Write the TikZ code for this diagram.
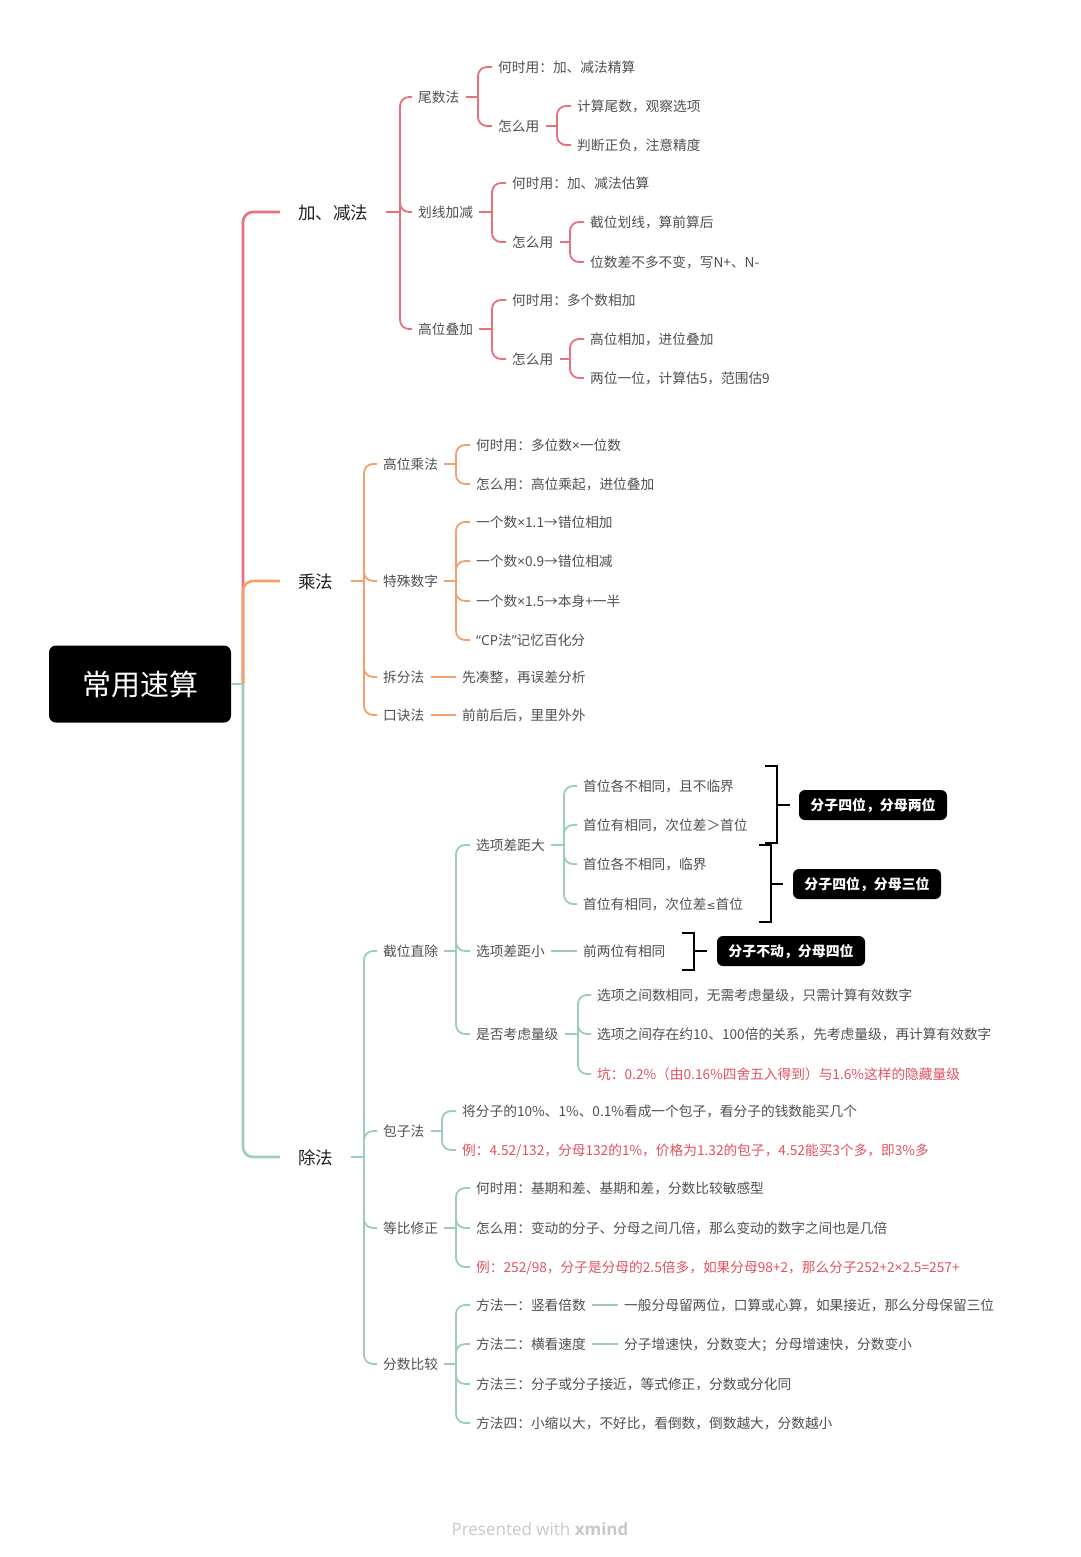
\documentclass[tikz,border=0pt]{standalone}
\usepackage{fontspec}
\setmainfont{Noto Sans CJK SC}
\newfontfamily\wmfont{Open Sans}
\newfontfamily\latn{Noto Sans}
\newfontfamily\djv{DejaVu Sans}
\newcommand\lat[1]{{\latn #1}}
\definecolor{cred}{HTML}{E8707D}
\definecolor{cora}{HTML}{F2A06C}
\definecolor{cgrn}{HTML}{9DCDB8}
\definecolor{ctxt}{HTML}{505050}
\definecolor{cl1}{HTML}{222222}
\definecolor{cwarn}{HTML}{E2525F}
\definecolor{cwm}{HTML}{C8C8C8}
\tikzset{
  base/.style={anchor=west, inner ysep=2pt},
  nd/.style={base, text height=12.6pt, text depth=1.4pt, inner xsep=6pt, xshift=-6pt, text=ctxt, font=\fontsize{13.7}{16}\selectfont},
  warn/.style={nd, text=cwarn},
  lone/.style={base, text height=16pt, text depth=1.2pt, inner xsep=18pt, xshift=-18pt, text=cl1, font=\fontsize{17.5}{20}\selectfont},
  rootbox/.style={fill=black, rounded corners=7pt, minimum width=182pt, minimum height=77pt, inner sep=0pt, text=white, font=\fontsize{29}{32}\selectfont},
  sumbox/.style={fill=black, rounded corners=6pt, minimum width=148pt, minimum height=30pt, inner sep=0pt, text=white, font=\bfseries\fontsize{13.9}{16}\selectfont},
  lr/.style={draw=cred, line width=1.8pt},
  lo/.style={draw=cora, line width=1.8pt},
  lg/.style={draw=cgrn, line width=1.8pt},
  trunk/.style={line width=2.6pt, rounded corners=10pt},
  brk/.style={draw=black, line width=1.8pt},
}
\newcommand\fork[4]{%
  \coordinate (sp) at (#3,0);
  \draw[#1] (#2.east) -- (#2.east -| sp);
  \foreach \ch in {#4}{\draw[#1, rounded corners=9pt] (#2.east -| sp) |- (\ch.west);}
}
\begin{document}
\begin{tikzpicture}[x=1pt, y=-1pt]
\fill[white] (0,0) rectangle (1080,1557);
\useasboundingbox (0,0) rectangle (1080,1557);

% root and level 1
\node[rootbox] (root) at (140,684) {常用速算};
\node[lone] (add) at (298,212) {加、减法};
\node[lone] (mul) at (298,581) {乘法};
\node[lone] (div) at (298,1157) {除法};
\coordinate (s0) at (243,684);
\draw[lr, trunk] (s0) |- (add.west);
\draw[lo, trunk] (s0) |- (mul.west);
\draw[lg, trunk] (s0) |- (div.west);
\draw[lg, line width=2.6pt] (root.east) -- (s0);

% ---------- red subtree ----------
\node[nd] (ws) at (418,97) {尾数法};
\node[nd] (hx) at (418,212) {划线加减};
\node[nd] (gw) at (418,329) {高位叠加};
\fork{lr}{add}{400}{ws,hx,gw}

\node[nd] (ws1) at (498,67) {何时用：加、减法精算};
\node[nd] (ws2) at (498,126) {怎么用};
\fork{lr}{ws}{478}{ws1,ws2}
\node[nd] (ws21) at (577,106) {计算尾数，观察选项};
\node[nd] (ws22) at (577,145) {判断正负，注意精度};
\fork{lr}{ws2}{557}{ws21,ws22}

\node[nd] (hx1) at (512,183) {何时用：加、减法估算};
\node[nd] (hx2) at (512,242) {怎么用};
\fork{lr}{hx}{492}{hx1,hx2}
\node[nd] (hx21) at (590,222) {截位划线，算前算后};
\node[nd] (hx22) at (590,262) {位数差不多不变，写N+、N-};
\fork{lr}{hx2}{570}{hx21,hx22}

\node[nd] (gw1) at (512,300) {何时用：多个数相加};
\node[nd] (gw2) at (512,359) {怎么用};
\fork{lr}{gw}{492}{gw1,gw2}
\node[nd] (gw21) at (590,339) {高位相加，进位叠加};
\node[nd] (gw22) at (590,378) {两位一位，计算估5，范围估9};
\fork{lr}{gw2}{570}{gw21,gw22}

% ---------- orange subtree ----------
\node[nd] (gwcf) at (383,464) {高位乘法};
\node[nd] (tssz) at (383,581) {特殊数字};
\node[nd] (cff) at (383,677) {拆分法};
\node[nd] (kjf) at (383,715) {口诀法};
\fork{lo}{mul}{364}{gwcf,tssz,cff,kjf}

\node[nd] (gwcf1) at (476,445) {何时用：多位数\lat{×}一位数};
\node[nd] (gwcf2) at (476,484) {怎么用：高位乘起，进位叠加};
\fork{lo}{gwcf}{456}{gwcf1,gwcf2}

\node[nd] (ts1) at (476,522) {一个数\lat{×}1.1→错位相加};
\node[nd] (ts2) at (476,561) {一个数\lat{×}0.9→错位相减};
\node[nd] (ts3) at (476,601) {一个数\lat{×}1.5→本身+一半};
\node[nd] (ts4) at (476,640) {\lat{“CP}法\lat{”}记忆百化分};
\fork{lo}{tssz}{456}{ts1,ts2,ts3,ts4}

\node[nd] (cff1) at (462,677) {先凑整，再误差分析};
\draw[lo] (cff.east) -- (cff1.west);
\node[nd] (kjf1) at (462,715) {前前后后，里里外外};
\draw[lo] (kjf.east) -- (kjf1.west);

% ---------- green subtree ----------
\node[nd] (jwzc) at (383,951) {截位直除};
\node[nd] (bzf) at (383,1131) {包子法};
\node[nd] (dbxz) at (383,1228) {等比修正};
\node[nd] (fsbj) at (383,1364) {分数比较};
\fork{lg}{div}{364}{jwzc,bzf,dbxz,fsbj}

\node[nd] (xd) at (476,845) {选项差距大};
\node[nd] (xx) at (476,951) {选项差距小};
\node[nd] (sf) at (476,1034) {是否考虑量级};
\fork{lg}{jwzc}{456}{xd,xx,sf}

\node[nd] (xd1) at (583,786) {首位各不相同，且不临界};
\node[nd] (xd2) at (583,825) {首位有相同，次位差＞首位};
\node[nd] (xd3) at (583,864) {首位各不相同，临界};
\node[nd] (xd4) at (583,904) {首位有相同，次位差{\djv\fontsize{11}{13}\selectfont ≤}首位};
\fork{lg}{xd}{564}{xd1,xd2,xd3,xd4}

\node[nd] (xx1) at (583,951) {前两位有相同};
\draw[lg] (xx.east) -- (xx1.west);

\node[sumbox] (sum1) at (873,805) {分子四位，分母两位};
\node[sumbox] (sum2) at (867,884) {分子四位，分母三位};
\node[sumbox] (sum3) at (791,951) {分子不动，分母四位};
\coordinate (b1t) at (765,766); \coordinate (b1b) at (765,843); \coordinate (b1m) at (777,805);
\coordinate (b2t) at (759,845); \coordinate (b2b) at (759,922); \coordinate (b2m) at (771,884);
\coordinate (b3t) at (682,933); \coordinate (b3b) at (682,970); \coordinate (b3m) at (694,951);
\draw[brk] (b1t) -| (b1m |- b1b) -- (b1b);
\draw[brk] (b1m) -- ([xshift=-9pt]sum1.west);
\draw[brk] (b2t) -| (b2m |- b2b) -- (b2b);
\draw[brk] (b2m) -- ([xshift=-10pt]sum2.west);
\draw[brk] (b3t) -| (b3m |- b3b) -- (b3b);
\draw[brk] (b3m) -- ([xshift=-10pt]sum3.west);

\node[nd] (sf1) at (597,995) {选项之间数相同，无需考虑量级，只需计算有效数字};
\node[nd] (sf2) at (597,1034) {选项之间存在约10、100倍的关系，先考虑量级，再计算有效数字};
\node[warn] (sf3) at (597,1074) {坑：0.2\%（由0.16\%四舍五入得到）与1.6\%这样的隐藏量级};
\fork{lg}{sf}{578}{sf1,sf2,sf3}

\node[nd] (bz1) at (462,1111) {将分子的10\%、1\%、0.1\%看成一个包子，看分子的钱数能买几个};
\node[warn] (bz2) at (462,1150) {例：4.52/132，分母132的1\%，价格为1.32的包子，4.52能买3个多，即3\%多};
\fork{lg}{bzf}{442}{bz1,bz2}

\node[nd] (db1) at (476,1188) {何时用：基期和差、基期和差，分数比较敏感型};
\node[nd] (db2) at (476,1228) {怎么用：变动的分子、分母之间几倍，那么变动的数字之间也是几倍};
\node[warn] (db3) at (476,1267) {例：252/98，分子是分母的2.5倍多，如果分母98+2，那么分子252+2\lat{×}2.5=257+};
\fork{lg}{dbxz}{456}{db1,db2,db3}

\node[nd] (fs1) at (476,1305) {方法一：竖看倍数};
\node[nd] (fs2) at (476,1344) {方法二：横看速度};
\node[nd] (fs3) at (476,1384) {方法三：分子或分子接近，等式修正，分数或分化同};
\node[nd] (fs4) at (476,1423) {方法四：小缩以大，不好比，看倒数，倒数越大，分数越小};
\fork{lg}{fsbj}{456}{fs1,fs2,fs3,fs4}
\node[nd] (fs11) at (624,1305) {一般分母留两位，口算或心算，如果接近，那么分母保留三位};
\draw[lg] (fs1.east) -- (fs11.west);
\node[nd] (fs21) at (624,1344) {分子增速快，分数变大；分母增速快，分数变小};
\draw[lg] (fs2.east) -- (fs21.west);

% watermark
\node[font=\wmfont\fontsize{17}{20}\selectfont, text=cwm] (wm) at (540,1529) {Presented with \textbf{xmind}};
\end{tikzpicture}
\end{document}
